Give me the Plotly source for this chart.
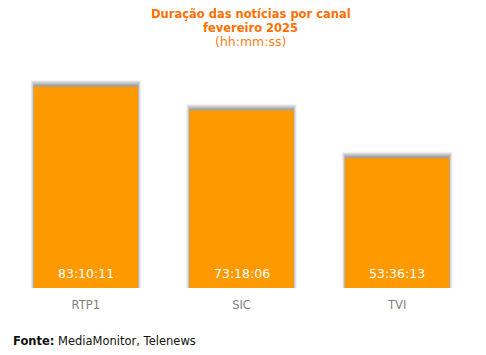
import plotly.graph_objects as go

channels = ["RTP1", "SIC", "TVI"]
durations = ["83:10:11", "73:18:06", "53:36:13"]

def to_hours(s):
    h, m, sec = [int(p) for p in s.split(":")]
    return h + m / 60 + sec / 3600

hours = [to_hours(d) for d in durations]

BAR = "#FF9900"
fig = go.Figure()

# soft shadow layers (drawn from the data values)
for w, dy, op in [(0.715, 2.8, 0.05), (0.705, 2.5, 0.07), (0.695, 2.2, 0.10),
                  (0.685, 1.8, 0.14), (0.678, 1.3, 0.19), (0.673, 0.8, 0.22)]:
    fig.add_trace(go.Bar(
        x=channels, y=[h + dy for h in hours], width=w,
        marker=dict(color=f"rgba(90,90,90,{op})", line_width=0),
        hoverinfo="skip", showlegend=False,
    ))

fig.add_trace(go.Bar(
    x=channels, y=hours, width=0.67,
    marker=dict(color=BAR, line_width=0),
    showlegend=False,
))

for c, h, d in zip(channels, hours, durations):
    fig.add_annotation(x=c, y=0, text=d, showarrow=False, yanchor="middle", yshift=15,
                       font=dict(family="DejaVu Sans", size=12.5, color="white"))

for txt, ys, col, sz in [("<b>Duração das notícias por canal</b>", 274, "#FF7000", 11.5),
                         ("<b>fevereiro 2025</b>", 260.5, "#FF7000", 11.5),
                         ("(hh:mm:ss)", 246.5, "#FF7D22", 12.5)]:
    fig.add_annotation(xref="paper", yref="paper", x=0.5, y=0, yshift=ys, xshift=9,
                       xanchor="center", yanchor="middle", borderpad=0,
                       text=txt, showarrow=False, font=dict(family="DejaVu Sans", size=sz, color=col))
fig.add_annotation(xref="paper", yref="paper", x=0, y=0, yshift=-53, xanchor="left", yanchor="middle",
                   xshift=3, text="<b>Fonte:</b> MediaMonitor, Telenews",
                   showarrow=False, font=dict(family="DejaVu Sans", size=11.5, color="#111111"))

fig.update_layout(
    width=486, height=355,
    margin=dict(l=0, r=19, t=52, b=75, autoexpand=False),
    barmode="overlay",
    paper_bgcolor="white", plot_bgcolor="white",
    xaxis=dict(showline=False, showgrid=False, ticks="", ticklabelstandoff=8,
               tickfont=dict(family="DejaVu Sans", size=11.5, color="#808080")),
    yaxis=dict(visible=False, range=[0, 94.2]),
)

fig.write_html("out.html")
